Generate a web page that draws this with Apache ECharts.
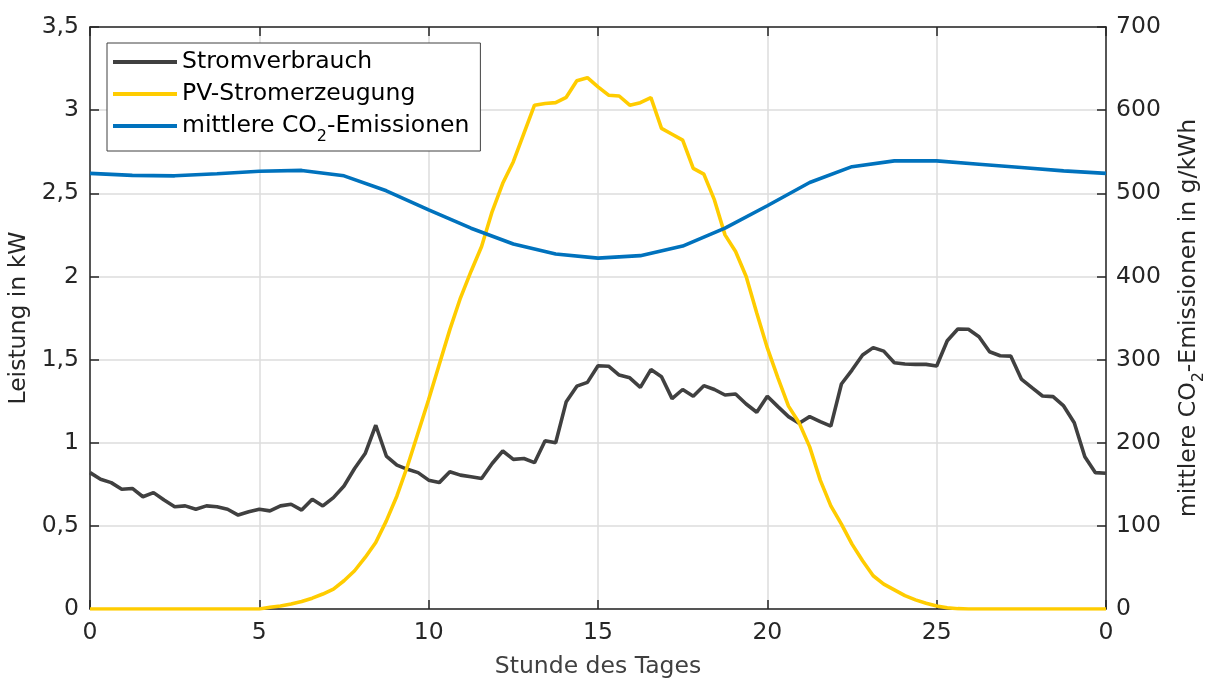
<!DOCTYPE html>
<html>
<head>
<meta charset="utf-8">
<script src="https://cdn.jsdelivr.net/npm/echarts@6/dist/echarts.min.js"></script>
<style>
  html, body { margin: 0; padding: 0; background: #fff; overflow: hidden; }
  #chart { width: 1209px; height: 678px; }
</style>
</head>
<body>
<div id="chart"></div>
<script>
// quarter-hour-ish sampling of the source data (96 steps across the 30 h axis)
const stepHours = 0.3125
const co2StepHours = 1.25

const xTickLabels = ['0', '5', '10', '15', '20', '25', '0']

// Stromverbrauch in kW
const consumption = [
  0.82, 0.78, 0.76, 0.72, 0.725, 0.675, 0.70, 0.655, 0.615, 0.62,
  0.60, 0.62, 0.615, 0.60, 0.565, 0.585, 0.60, 0.59, 0.62, 0.63,
  0.595, 0.66, 0.62, 0.67, 0.74, 0.845, 0.935, 1.105, 0.92, 0.865,
  0.84, 0.82, 0.775, 0.76, 0.825, 0.805, 0.795, 0.785, 0.875, 0.95,
  0.90, 0.905, 0.88, 1.012, 1.00, 1.247, 1.34, 1.363, 1.463, 1.46,
  1.407, 1.39, 1.333, 1.44, 1.397, 1.265, 1.32, 1.28, 1.343, 1.32,
  1.287, 1.293, 1.233, 1.183, 1.28, 1.217, 1.157, 1.117, 1.157, 1.127,
  1.10, 1.353, 1.437, 1.527, 1.572, 1.551, 1.481, 1.473, 1.471, 1.471,
  1.461, 1.613, 1.684, 1.682, 1.637, 1.547, 1.523, 1.521, 1.383, 1.331,
  1.281, 1.277, 1.221, 1.12, 0.916, 0.82, 0.816
]

// PV-Stromerzeugung in kW
const pvGeneration = [
  0, 0, 0, 0, 0, 0, 0, 0, 0, 0,
  0, 0, 0, 0, 0, 0, 0, 0.01, 0.018, 0.03,
  0.045, 0.065, 0.09, 0.12, 0.17, 0.23, 0.31, 0.40, 0.53, 0.68,
  0.86, 1.06, 1.26, 1.47, 1.68, 1.87, 2.03, 2.18, 2.39, 2.56,
  2.69, 2.86, 3.03, 3.04, 3.045, 3.077, 3.177, 3.195, 3.14, 3.09,
  3.085, 3.03, 3.045, 3.075, 2.89, 2.855, 2.82, 2.65, 2.615, 2.46,
  2.25, 2.15, 2.0, 1.78, 1.57, 1.39, 1.22, 1.12, 0.975, 0.775,
  0.62, 0.51, 0.39, 0.29, 0.20, 0.15, 0.115, 0.08, 0.055, 0.035,
  0.018, 0.008, 0.002, 0, 0, 0, 0, 0, 0, 0,
  0, 0, 0, 0, 0, 0, 0
]

// mittlere CO2-Emissionen in g/kWh
const co2Emissions = [
  524, 521.5, 521, 523.5, 526.5, 527.5, 521, 503, 480, 458,
  439, 427, 422, 425, 436.5, 458, 485, 513, 532, 539,
  539, 535, 531, 527, 524
]

const seriesNames = ['Stromverbrauch', 'PV-Stromerzeugung', 'mittlere CO2-Emissionen']
const seriesColors = ['#404040', '#FFCC00', '#0072BD']

const font = 'DejaVu Sans'
const textColor = '#262626'
const fs = 23.5

const toPairs = (values, step) => values.map((v, i) => [i * step, v])

const axisLine = { show: true, onZero: false, lineStyle: { color: '#262626', width: 1.5 } }
const axisTick = { show: true, inside: true, length: 9, lineStyle: { color: '#262626', width: 1.5 } }

const chart = echarts.init(document.getElementById('chart'), null, { renderer: 'canvas' })

chart.setOption({
  animation: false,
  backgroundColor: '#fff',
  textStyle: { fontFamily: font },
  grid: { left: 90, right: 103, top: 27, bottom: 69, outerBoundsMode: 'none', containLabel: false },
  legend: {
    orient: 'vertical',
    left: 107,
    top: 43,
    padding: [7, 11, 6, 6],
    itemGap: 8,
    itemWidth: 64,
    itemHeight: 4,
    icon: 'rect',
    backgroundColor: '#fff',
    borderColor: '#404040',
    borderWidth: 1,
    data: seriesNames,
    formatter: name => name === seriesNames[2]
      ? '{a|mittlere CO}{sub|2}{a|-Emissionen}'
      : '{a|' + name + '}',
    textStyle: {
      padding: [0, 0, 0, 0],
      rich: {
        a: { fontFamily: font, fontSize: fs, color: '#000', lineHeight: 30 },
        sub: { fontFamily: font, fontSize: 16, color: '#000', lineHeight: 16, verticalAlign: 'bottom', padding: [0, 0, -4, 0] }
      }
    }
  },
  xAxis: [{
    type: 'value',
    min: 0,
    max: 30,
    interval: 5,
    name: 'Stunde des Tages',
    nameLocation: 'middle',
    nameGap: 46,
    nameTextStyle: { fontFamily: font, fontSize: fs, color: '#404040' },
    axisLine,
    axisTick,
    axisLabel: {
      fontFamily: font, fontSize: fs, color: textColor, margin: 12,
      formatter: v => xTickLabels[Math.round(v / 5)]
    },
    splitLine: { show: true, lineStyle: { color: '#dcdcdc', width: 1.5 } }
  }, {
    type: 'value',
    position: 'top',
    min: 0,
    max: 30,
    interval: 5,
    axisLine,
    axisTick,
    axisLabel: { show: false },
    splitLine: { show: false }
  }],
  yAxis: [{
    type: 'value',
    min: 0,
    max: 3.5,
    interval: 0.5,
    name: 'Leistung in kW',
    nameLocation: 'middle',
    nameGap: 54,
    nameTextStyle: { fontFamily: font, fontSize: fs, color: textColor },
    axisLine,
    axisTick,
    axisLabel: {
      fontFamily: font, fontSize: fs, color: textColor, margin: 11,
      formatter: v => String(v).replace('.', ',')
    },
    splitLine: { show: true, lineStyle: { color: '#dcdcdc', width: 1.5 } }
  }, {
    type: 'value',
    min: 0,
    max: 700,
    interval: 100,
    name: '{a|mittlere CO}{sub|2}{a|-Emissionen in g/kWh}',
    nameLocation: 'middle',
    nameGap: 69,
    nameTextStyle: {
      rich: {
        a: { fontFamily: font, fontSize: fs, color: textColor, lineHeight: 28 },
        sub: { fontFamily: font, fontSize: 16, color: textColor, lineHeight: 16, verticalAlign: 'bottom', padding: [0, 0, -4, 0] }
      }
    },
    axisLine,
    axisTick,
    axisLabel: { fontFamily: font, fontSize: fs, color: textColor, margin: 10 },
    splitLine: { show: false }
  }],
  series: [{
    name: seriesNames[0],
    type: 'line',
    yAxisIndex: 0,
    symbol: 'none',
    z: 3,
    data: toPairs(consumption, stepHours),
    lineStyle: { color: seriesColors[0], width: 3.6 },
    itemStyle: { color: seriesColors[0] }
  }, {
    name: seriesNames[1],
    type: 'line',
    yAxisIndex: 0,
    symbol: 'none',
    z: 4,
    data: toPairs(pvGeneration, stepHours),
    lineStyle: { color: seriesColors[1], width: 3.6 },
    itemStyle: { color: seriesColors[1] }
  }, {
    name: seriesNames[2],
    type: 'line',
    yAxisIndex: 1,
    symbol: 'none',
    z: 5,
    data: toPairs(co2Emissions, co2StepHours),
    lineStyle: { color: seriesColors[2], width: 3.6 },
    itemStyle: { color: seriesColors[2] }
  }]
})

window.addEventListener('resize', () => chart.resize())
</script>
</body>
</html>
